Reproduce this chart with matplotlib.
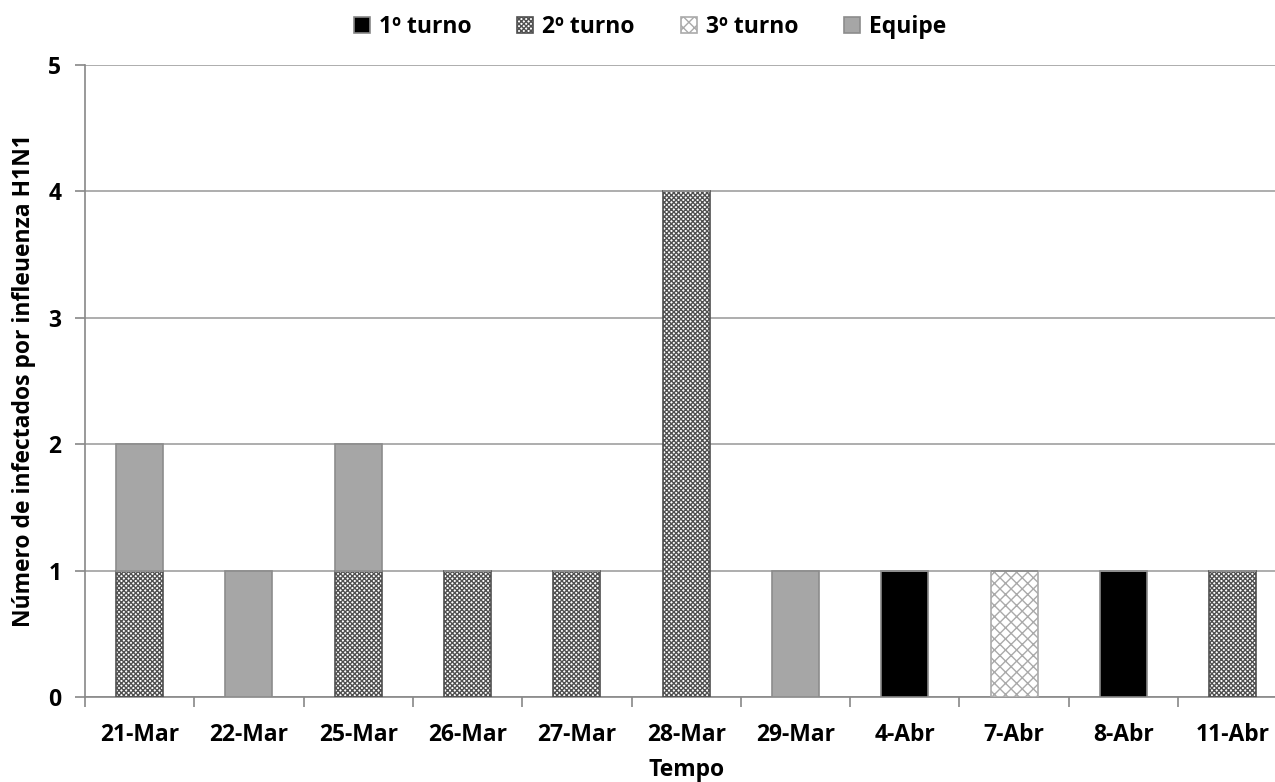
import numpy as np
import matplotlib.pyplot as plt

plt.rcParams['font.family'] = ['Open Sans', 'DejaVu Sans']
plt.rcParams['font.weight'] = 'bold'
plt.rcParams['hatch.linewidth'] = 1.0

# dados
datas = ['21-Mar', '22-Mar', '25-Mar', '26-Mar', '27-Mar', '28-Mar', '29-Mar',
         '4-Abr', '7-Abr', '8-Abr', '11-Abr']
turno1 = [0, 0, 0, 0, 0, 0, 0, 1, 0, 1, 0]
turno2 = [1, 0, 1, 1, 1, 4, 0, 0, 0, 0, 1]
turno3 = [0, 0, 0, 0, 0, 0, 0, 0, 1, 0, 0]
equipe = [1, 1, 1, 0, 0, 0, 1, 0, 0, 0, 0]

x = np.arange(len(datas))
largura = 0.43

fig = plt.figure(figsize=(12.75, 7.82), dpi=100)
ax = fig.add_axes([0.0667, 0.1087, 0.943, 0.8082])

base = np.zeros(len(datas))
series = [
    (turno1, '1º turno', 'black', '#888888', None),
    (turno2, '2º turno', 'white', '#505050', 'xxxxxxx'),
    (turno3, '3º turno', 'white', '#aaaaaa', 'xxx'),
    (equipe, 'Equipe', '#a6a6a6', '#8c8c8c', None),
]
for valores, nome, cor, borda, hachura in series:
    v = np.array(valores)
    ax.bar(x, v, largura, bottom=base, color=cor, edgecolor=borda,
           hatch=hachura, linewidth=1.2, label=nome, zorder=3)
    base += v

ax.set_xlim(-0.5, len(datas) - 0.5)
ax.set_ylim(0, 5)
ax.set_yticks(range(6))
ax.yaxis.grid(True, color='#a0a0a0', linewidth=1.2, zorder=0)
ax.set_xticks(x)
ax.set_xticklabels(datas, fontsize=16.5)
ax.set_xticks(np.arange(-0.5, len(datas), 1), minor=True)
ax.tick_params(axis='x', which='major', length=0, pad=19)
ax.tick_params(axis='x', which='minor', length=7, color='#888888', width=1.2)
ax.tick_params(axis='y', length=7, color='#888888', width=1.2, labelsize=16.5, pad=10)
for lado in ['top', 'right']:
    ax.spines[lado].set_visible(False)
for lado in ['left', 'bottom']:
    ax.spines[lado].set_color('#888888')
    ax.spines[lado].set_linewidth(1.2)

ax.set_xlabel('Tempo', fontsize=16.5, fontweight='bold', labelpad=8)
ax.set_ylabel('Número de infectados por infleuenza H1N1', fontsize=16.5,
              fontweight='bold', labelpad=9)

ax.legend(loc='upper center', bbox_to_anchor=(0.47, 1.112), ncol=4, frameon=False,
          fontsize=16.5, handlelength=0.7, handleheight=0.7, columnspacing=2.0,
          handletextpad=0.4)

plt.savefig('out.png')
